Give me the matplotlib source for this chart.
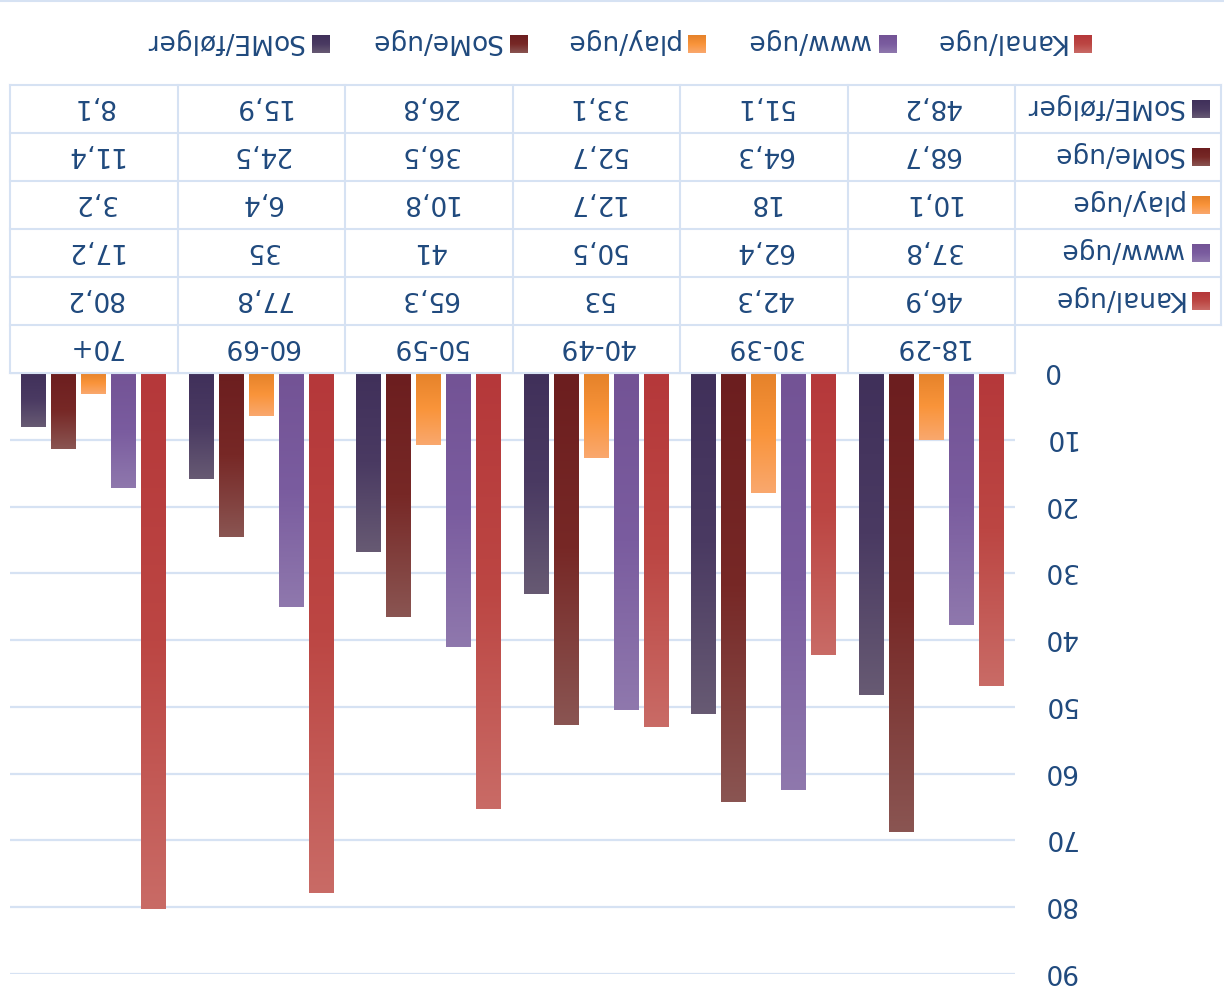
import numpy as np
import matplotlib.pyplot as plt
from matplotlib.colors import LinearSegmentedColormap

plt.rcParams['font.family'] = ['DejaVu Sans']

# data (chart is shown turned upside down)
categories = ['18-29', '30-39', '40-49', '50-59', '60-69', '70+']
series = ['Kanal/uge', 'www/uge', 'play/uge', 'SoMe/uge', 'SoME/følger']
kanal_uge = [46.9, 42.3, 53, 65.3, 77.8, 80.2]
www_uge = [37.8, 62.4, 50.5, 41, 35, 17.2]
play_uge = [10.1, 18, 12.7, 10.8, 6.4, 3.2]
some_uge = [68.7, 64.3, 52.7, 36.5, 24.5, 11.4]
some_folger = [48.2, 51.1, 33.1, 26.8, 15.9, 8.1]
y_ticks = [0, 10, 20, 30, 40, 50, 60, 70, 80, 90]

values = [kanal_uge, www_uge, play_uge, some_uge, some_folger]

# gradient stops per series, base of bar -> tip
grad_colors = [
    ['#B5383A', '#BC4643', '#C96B66'],
    ['#735395', '#7A5C9F', '#8F78AD'],
    ['#E5822A', '#F9943A', '#FAA86E'],
    ['#6C1E1F', '#772826', '#8A5552'],
    ['#40305A', '#4A3A62', '#675A73'],
]
navy = '#1F497D'
line_col = '#D6E2F3'
fs = 19

W, H = 1224, 994
fig = plt.figure(figsize=(W / 100, H / 100), dpi=100)

left, right = 10, 1015
top_plot, bottom_plot = 373, 974
ax = fig.add_axes([left / W, 1 - bottom_plot / H, (right - left) / W, (bottom_plot - top_plot) / H])

x = np.arange(len(categories))
bar_w = 0.149
step = 0.179
grad = np.linspace(0, 1, 256).reshape(-1, 1)

for i, vals in enumerate(values):
    cmap = LinearSegmentedColormap.from_list(series[i], grad_colors[i])
    bars = ax.bar(x + (i - 2) * step, vals, bar_w, color='none', edgecolor='none', zorder=2)
    for r in bars:
        x0, w, h = r.get_x(), r.get_width(), r.get_height()
        ax.imshow(grad, cmap=cmap, extent=(x0, x0 + w, 0, h), origin='lower',
                  aspect='auto', interpolation='bilinear', zorder=2)

ax.set_xlim(len(categories) - 0.5, -0.5)
ax.set_ylim(90, 0)
ax.set_aspect('auto')
ax.set_xticks([])
ax.yaxis.tick_right()
ax.set_yticks(y_ticks)
ax.set_yticklabels([str(t) for t in y_ticks], rotation=180, rotation_mode='anchor',
                   ha='right', va='center_baseline', fontsize=fs, color=navy)
ax.tick_params(axis='y', length=0, pad=20)
ax.grid(axis='y', color=line_col, lw=1.6)
ax.set_axisbelow(True)
for s in ax.spines.values():
    s.set_visible(False)

# overlay in pixel coordinates for the table and legend
ov = fig.add_axes([0, 0, 1, 1])
ov.set_xlim(0, W)
ov.set_ylim(H, 0)
ov.axis('off')
ov.patch.set_visible(False)

tbl_top = 85
row_h = 48
col_w = (right - left) / len(categories)
hdr_right = 1221
lkw = dict(color=line_col, lw=1.5, solid_capstyle='projecting')

for k in range(6):
    ov.plot([left, hdr_right], [tbl_top + row_h * k] * 2, **lkw)
ov.plot([left, right], [tbl_top + row_h * 6] * 2, **lkw)
for j in range(len(categories) + 1):
    xx = left + col_w * j
    ov.plot([xx, xx], [tbl_top, tbl_top + row_h * 6], **lkw)
ov.plot([hdr_right] * 2, [tbl_top, tbl_top + row_h * 5], **lkw)

tkw = dict(rotation=180, rotation_mode='anchor', fontsize=fs, color=navy)

def fmt(v):
    return f'{v:g}'.replace('.', ',')

cat_y = tbl_top + row_h * 5.5
for i, c in enumerate(categories):
    cx = right - col_w * (i + 0.5)
    ov.text(cx, cat_y, c, ha='center', va='center_baseline', **tkw)
    for s, vals in enumerate(values):
        yc = tbl_top + row_h * (4.5 - s)
        ov.text(cx, yc, fmt(vals[i]), ha='center', va='center_baseline', **tkw)


def swatch(x0, yc, cols):
    cmap = LinearSegmentedColormap.from_list('sw', cols)
    ov.imshow(grad, cmap=cmap, extent=(x0, x0 + 18, yc - 9, yc + 9), origin='lower',
              aspect='auto', interpolation='bilinear')

for s, name in enumerate(series):
    yc = tbl_top + row_h * (4.5 - s)
    ov.text(1183, yc, name, ha='left', va='center_baseline', **tkw)
    swatch(1192, yc, grad_colors[s])

# legend
leg_y = 44
leg_swatch_x = [1074, 879, 688, 510, 312]
for s, name in enumerate(series):
    sx = leg_swatch_x[s]
    ov.text(sx - 9, leg_y, name, ha='left', va='center_baseline', **tkw)
    swatch(sx, leg_y, grad_colors[s])

ov.plot([0, W], [1, 1], color=line_col, lw=1.5)
ov.set_xlim(0, W)
ov.set_ylim(H, 0)

fig.savefig('out.png', dpi=100)
